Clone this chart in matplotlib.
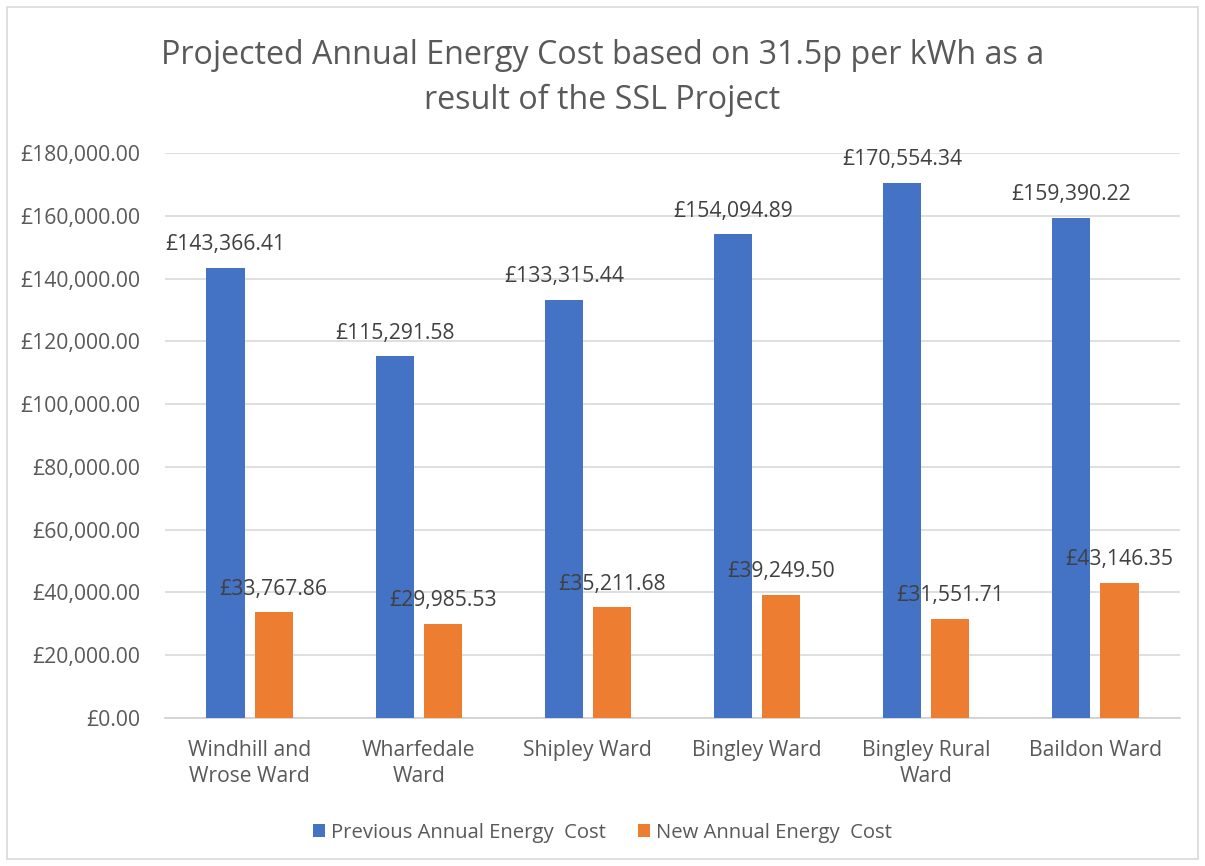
import matplotlib
matplotlib.use("Agg")
from matplotlib import pyplot as plt
from matplotlib.patches import Rectangle
import numpy as np

wards = ["Windhill and\nWrose Ward", "Wharfedale\nWard", "Shipley Ward",
         "Bingley Ward", "Bingley Rural\nWard", "Baildon Ward"]
previous_cost = [143366.41, 115291.58, 133315.44, 154094.89, 170554.34, 159390.22]
new_cost = [33767.86, 29985.53, 35211.68, 39249.50, 31551.71, 43146.35]
y_ticks = [0, 20000, 40000, 60000, 80000, 100000, 120000, 140000, 160000, 180000]

plt.rcParams["font.family"] = ["Open Sans", "DejaVu Sans"]
text_col = "#404040"
tick_col = "#595959"
fs = 15.2

fig = plt.figure(figsize=(12.05, 8.66), dpi=100)
ax = fig.add_axes([165 / 1205, 1 - 718 / 866, (1180 - 165) / 1205, (718 - 153) / 866])

x = np.arange(len(wards))
w = 0.225
off = w / 2 + 0.03
b1 = ax.bar(x - off, previous_cost, w, color="#4472C4", label="Previous Annual Energy  Cost", zorder=3)
b2 = ax.bar(x + off, new_cost, w, color="#ED7D31", label="New Annual Energy  Cost", zorder=3)

for xi, v in zip(x, previous_cost):
    ax.annotate(f"£{v:,.2f}", (xi - off, v), xytext=(0, 9), textcoords="offset points",
                ha="center", va="bottom", fontsize=fs, color=text_col, zorder=4)
for xi, v in zip(x, new_cost):
    ax.annotate(f"£{v:,.2f}", (xi + off, v), xytext=(0, 9), textcoords="offset points",
                ha="center", va="bottom", fontsize=fs, color=text_col, zorder=4)

ax.set_xlim(-0.5, len(wards) - 0.5)
ax.set_ylim(0, 180000)
ax.set_yticks(y_ticks)
ax.set_yticklabels([f"£{t:,.2f}" for t in y_ticks])
ax.set_xticks(x)
ax.set_xticklabels(wards, linespacing=1.3)
ax.tick_params(axis="both", length=0, labelsize=fs, colors=tick_col)
ax.tick_params(axis="y", pad=18)
ax.tick_params(axis="x", pad=16)
ax.grid(axis="y", color="#d9d9d9", linewidth=1.2, zorder=0)
for s in ["top", "right", "left"]:
    ax.spines[s].set_visible(False)
ax.spines["bottom"].set_color("#d0d0d0")
ax.spines["bottom"].set_linewidth(1.2)

fig.text(0.5, 1 - 78 / 866, "Projected Annual Energy Cost based on 31.5p per kWh as a\nresult of the SSL Project",
         ha="center", va="center", fontsize=23.2, color=tick_col, linespacing=1.5)

fig.legend(handles=[b1, b2], loc="center", bbox_to_anchor=(0.5, 1 - 833 / 866), ncol=2,
           frameon=False, fontsize=14.6, labelcolor=tick_col, handlelength=0.6, handleheight=0.6,
           handletextpad=0.3, columnspacing=1.6)

fig.patches.append(Rectangle((7 / 1205, 7 / 866), 1 - 14 / 1205, 1 - 14 / 866,
                             transform=fig.transFigure, fill=False, edgecolor="#d9d9d9", linewidth=1.2))

plt.savefig("out.png", dpi=100)
